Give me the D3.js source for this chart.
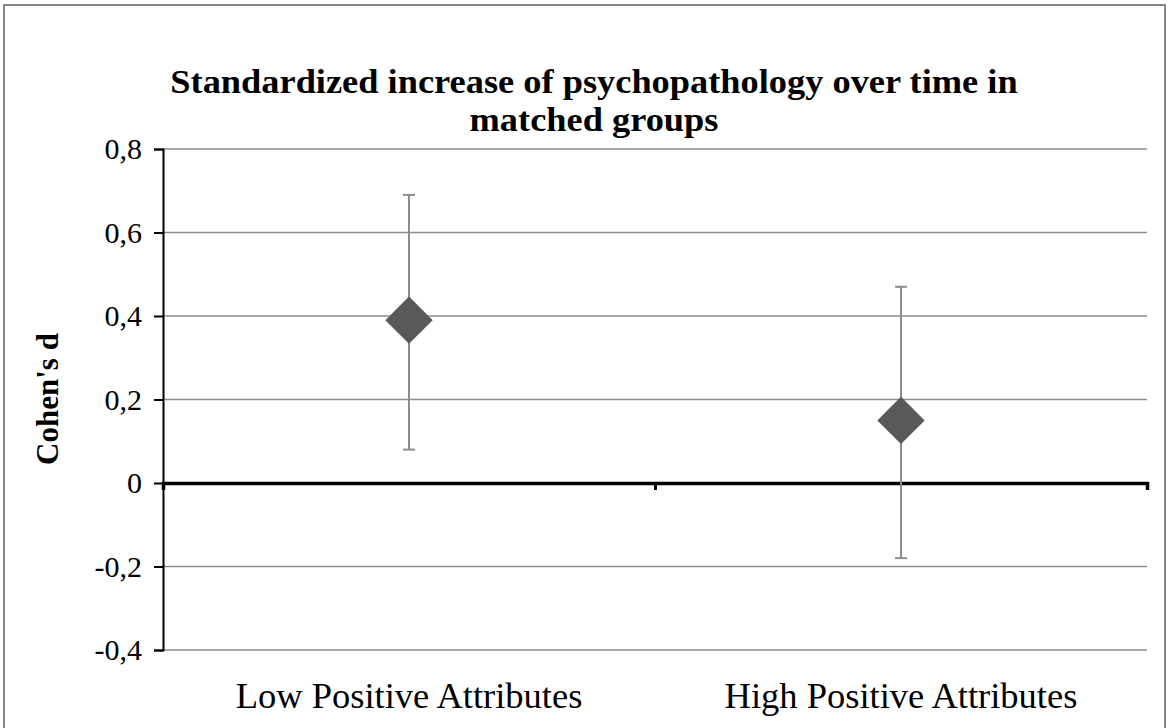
<!DOCTYPE html>
<html>
<head>
<meta charset="utf-8">
<script src="https://cdn.jsdelivr.net/npm/d3@7"></script>
<style>
  html, body { margin: 0; padding: 0; background: #fff; }
  svg { display: block; }
  text { font-family: "Liberation Serif", "Times New Roman", serif; }
</style>
</head>
<body>
<svg id="chart" width="1168" height="728"></svg>
<script>
// ---- data ----
const categories = ["Low Positive Attributes", "High Positive Attributes"];
const cohensD = [0.39, 0.15];
const ciLower = [0.08, -0.18];
const ciUpper = [0.69, 0.47];
const yTicks = [-0.4, -0.2, 0, 0.2, 0.4, 0.6, 0.8];
const titleLines = ["Standardized increase of psychopathology over time in", "matched groups"];
const yTitle = "Cohen's d";

// ---- layout ----
const W = 1168, H = 728;
const plot = { left: 163, right: 1147, top: 149, bottom: 650 };
const svg = d3.select("#chart");

svg.append("rect").attr("x", 0).attr("y", 0).attr("width", W).attr("height", H).attr("fill", "#fff");
svg.append("rect").attr("x", 4).attr("y", 5).attr("width", 1161).attr("height", H + 10)
  .attr("fill", "none").attr("stroke", "#868686").attr("stroke-width", 2);

const x = d3.scaleBand().domain(categories).range([plot.left, plot.right]);
const y = d3.scaleLinear().domain([-0.4, 0.8]).range([plot.bottom, plot.top]);
const fmt = v => (Math.abs(v) < 1e-9 ? "0" : d3.format(".1f")(v).replace(".", ",").replace("−", "-"));

// gridlines
svg.append("g").selectAll("line").data(yTicks.filter(t => t !== 0)).join("line")
  .attr("x1", plot.left).attr("x2", plot.right)
  .attr("y1", d => y(d)).attr("y2", d => y(d))
  .attr("stroke", "#8c8c8c").attr("stroke-width", 1.5);

// y axis
const yAxis = d3.axisLeft(y).tickValues(yTicks).tickSize(9).tickFormat(fmt);
const gy = svg.append("g").attr("transform", `translate(${plot.left},0)`).call(yAxis);
gy.select(".domain").attr("stroke", "#000").attr("stroke-width", 2);
gy.selectAll(".tick line").attr("stroke", "#000").attr("stroke-width", 2);
gy.selectAll(".tick text").attr("font-size", 30).attr("fill", "#000").attr("x", -21);

// x axis at zero
const xAxis = d3.axisBottom(d3.scalePoint().domain([0, 1, 2]).range([plot.left, plot.right]))
  .tickSize(7).tickFormat("");
const gx = svg.append("g").attr("transform", `translate(0,${y(0)})`).call(xAxis);
gx.select(".domain").attr("stroke", "#000").attr("stroke-width", 3.5);
gx.selectAll(".tick line").attr("stroke", "#000").attr("stroke-width", 3);

// category labels
svg.append("g").selectAll("text").data(categories).join("text")
  .attr("x", d => x(d) + x.bandwidth() / 2).attr("y", 708)
  .attr("text-anchor", "middle").attr("font-size", 36.5).attr("fill", "#000")
  .text(d => d);

// error bars
const cx = (d, i) => x(categories[i]) + x.bandwidth() / 2;
const eb = svg.append("g");
eb.selectAll("line.v").data(cohensD).join("line").attr("class", "v")
  .attr("x1", cx).attr("x2", cx)
  .attr("y1", (d, i) => y(ciLower[i])).attr("y2", (d, i) => y(ciUpper[i]))
  .attr("stroke", "#8c8c8c").attr("stroke-width", 2);
eb.selectAll("line.t").data(cohensD).join("line").attr("class", "t")
  .attr("x1", (d, i) => cx(d, i) - 6).attr("x2", (d, i) => cx(d, i) + 6)
  .attr("y1", (d, i) => y(ciUpper[i])).attr("y2", (d, i) => y(ciUpper[i]))
  .attr("stroke", "#8c8c8c").attr("stroke-width", 2);
eb.selectAll("line.b").data(cohensD).join("line").attr("class", "b")
  .attr("x1", (d, i) => cx(d, i) - 6).attr("x2", (d, i) => cx(d, i) + 6)
  .attr("y1", (d, i) => y(ciLower[i])).attr("y2", (d, i) => y(ciLower[i]))
  .attr("stroke", "#8c8c8c").attr("stroke-width", 2);

// diamonds
const diamond = d3.symbol().type(d3.symbolSquare).size(33.5 * 33.5);
svg.append("g").selectAll("path").data(cohensD).join("path")
  .attr("d", diamond)
  .attr("transform", (d, i) => `translate(${cx(d, i)},${y(d)}) rotate(45)`)
  .attr("fill", "#595959");

// title
svg.append("g").selectAll("text").data(titleLines).join("text")
  .attr("transform", (d, i) => `translate(594,${93 + i * 38}) scale(1.07,1)`)
  .attr("text-anchor", "middle").attr("font-size", 34).attr("font-weight", "bold")
  .attr("fill", "#000").text(d => d);

// y title
svg.append("text")
  .attr("transform", "translate(58,399) rotate(-90)")
  .attr("text-anchor", "middle").attr("font-size", 31).attr("font-weight", "bold")
  .attr("fill", "#000").text(yTitle);
</script>
</body>
</html>
